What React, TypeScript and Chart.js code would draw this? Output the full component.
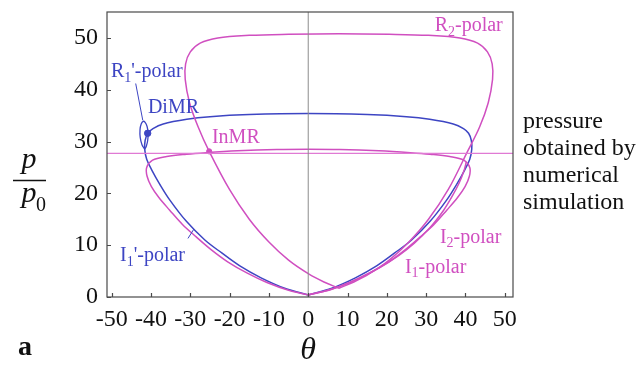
import { useEffect, useRef } from "react";
import { Chart, registerables } from "chart.js";

Chart.register(...registerables);

const MAGENTA = "#d04fc0";
const BLUE = "#3d45c3";
const SERIF = '"Liberation Serif", "Times New Roman", serif';

// Axis ranges and ticks (deflection angle θ in degrees, pressure ratio p/p0)
const THETA_MIN = -51.2;
const THETA_MAX = 52.1;
const P_MIN = 0;
const P_MAX = 55;
const THETA_TICKS = [-50, -40, -30, -20, -10, 0, 10, 20, 30, 40, 50];
const P_TICKS = [0, 10, 20, 30, 40, 50];

// Pressure from the numerical simulation
const NUMERICAL_PRESSURE = 27.7;

// I1-polar
const I1_THETA = [0, -5, -10.5, -15.5, -20.5, -24.8, -28.5, -32, -35.3, -38, -39.9, -41.0, -41.1, -39.6, -36, -31, -26, -18, -8, 0, 8, 18, 26, 31, 36, 39.6, 41.1, 41.0, 39.9, 38, 35.3, 32, 28.5, 24.8, 20.5, 15.5, 10.5, 5, 0];
const I1_P = [0.4, 1.3, 2.8, 4.6, 6.8, 9.2, 11.6, 14, 16.8, 19.2, 21.3, 23.3, 25.0, 26.4, 27.1, 27.55, 27.85, 28.2, 28.45, 28.5, 28.45, 28.2, 27.85, 27.55, 27.1, 26.4, 25.0, 23.3, 21.3, 19.2, 16.8, 14, 11.6, 9.2, 6.8, 4.6, 2.8, 1.3, 0.4];

// I2-polar (right branch)
const I2_THETA = [0, 6, 12, 18, 23, 27, 31, 34.5, 36.6, 38.4, 39.6, 40.2];
const I2_P = [0.4, 1.5, 3.3, 5.6, 8.0, 10.4, 13.4, 16.8, 19.4, 22.0, 24.3, 26.0];

// I1'-polar
const I1P_THETA = [0, -6, -12, -17.4, -22, -26.3, -31, -35.2, -37.8, -39.8, -41.1, -41.6, -41.5, -40.8, -39.5, -36.9, -30.9, -25, -15, 0, 15, 25, 30.9, 36.9, 39.5, 40.8, 41.5, 41.6, 41.1, 39.8, 37.8, 35.2, 31, 26.3, 22, 17.4, 12, 6, 0];
const I1P_P = [0.4, 1.7, 3.7, 6.0, 8.5, 11.0, 14.6, 18.7, 21.8, 24.5, 26.6, 28.5, 30.2, 31.6, 32.5, 33.4, 34.3, 34.8, 35.2, 35.4, 35.2, 34.8, 34.3, 33.4, 32.5, 31.6, 30.2, 28.5, 26.6, 24.5, 21.8, 18.7, 14.6, 11.0, 8.5, 6.0, 3.7, 1.7, 0.4];

// R1'-polar (small loop)
const R1P_THETA = [-41.6, -42.3, -42.75, -42.8, -42.5, -42.0, -41.5, -41.0, -40.75, -40.85, -41.2, -41.6];
const R1P_P = [28.5, 29.4, 30.8, 32.3, 33.4, 33.9, 33.7, 32.9, 31.6, 30.2, 29.1, 28.5];

// R2-polar
const R2_THETA = [7.8, 4, 0, -5, -10, -15, -20, -25.2, -28, -30.2, -31.3, -31.2, -30, -27.5, -23, -15, -5, 7.8, 20.6, 30.6, 38.6, 43.1, 45.6, 46.8, 46.9, 45.8, 43.6, 40.6, 35.6, 30.6, 25.6, 20.6, 15.6, 11.6, 7.8];
const R2_P = [1.7, 2.9, 4.5, 7.1, 10.6, 15.0, 20.7, 28.1, 32.8, 37.5, 42, 45, 47.3, 49, 50, 50.5, 50.7, 50.8, 50.7, 50.5, 50, 49, 47.3, 45, 42, 37.5, 32.8, 28.2, 20.7, 15, 10.6, 7.1, 4.5, 2.9, 1.7];

// Reflection configurations
const DIMR = { theta: -40.85, p: 31.6 };
const INMR = { theta: -25.2, p: 28.1 };

type Part = { t: string; sub?: boolean };
type Note = { parts: Part[]; theta: number; p: number; align: "left" | "right"; color: string };

const NOTES: Note[] = [
  { parts: [{ t: "R" }, { t: "2", sub: true }, { t: "-polar" }], theta: 49.5, p: 52.3, align: "right", color: MAGENTA },
  { parts: [{ t: "R" }, { t: "1", sub: true }, { t: "'-polar" }], theta: -50.2, p: 43.4, align: "left", color: BLUE },
  { parts: [{ t: "DiMR" }], theta: -40.8, p: 36.6, align: "left", color: BLUE },
  { parts: [{ t: "InMR" }], theta: -24.5, p: 30.8, align: "left", color: MAGENTA },
  { parts: [{ t: "I" }, { t: "1", sub: true }, { t: "'-polar" }], theta: -47.9, p: 7.9, align: "left", color: BLUE },
  { parts: [{ t: "I" }, { t: "2", sub: true }, { t: "-polar" }], theta: 33.5, p: 11.5, align: "left", color: MAGENTA },
  { parts: [{ t: "I" }, { t: "1", sub: true }, { t: "-polar" }], theta: 24.6, p: 5.7, align: "left", color: MAGENTA },
];

const LEADERS = [
  { from: [-43.9, 41.2], to: [-42.1, 34.1], color: BLUE },
  { from: [-30.6, 11.3], to: [-29.1, 13.1], color: BLUE },
];

const SIDE_TEXT = ["pressure", "obtained by", "numerical", "simulation"];

const pts = (xs: number[], ys: number[]) => xs.map((x, i) => ({ x, y: ys[i] }));

function drawParts(ctx: CanvasRenderingContext2D, parts: Part[], x: number, y: number, size: number, align: "left" | "right") {
  const big = `${size}px ${SERIF}`;
  const small = `${Math.round(size * 0.68)}px ${SERIF}`;
  const widths = parts.map((pt) => {
    ctx.font = pt.sub ? small : big;
    return ctx.measureText(pt.t).width;
  });
  const total = widths.reduce((a, b) => a + b, 0);
  let cx = align === "left" ? x : x - total;
  ctx.textAlign = "left";
  ctx.textBaseline = "middle";
  parts.forEach((pt, i) => {
    ctx.font = pt.sub ? small : big;
    ctx.fillText(pt.t, cx, pt.sub ? y + size * 0.3 : y);
    cx += widths[i];
  });
}

const decorPlugin = {
  id: "decor",
  afterDraw(chart: any) {
    const { ctx, chartArea: a, scales } = chart;
    const sx = scales.x;
    const sy = scales.y;
    ctx.save();

    // frame and inward ticks
    ctx.strokeStyle = "#4a4a4a";
    ctx.lineWidth = 1.2;
    ctx.strokeRect(a.left, a.top, a.right - a.left, a.bottom - a.top);
    ctx.beginPath();
    THETA_TICKS.forEach((v) => {
      const px = Math.round(sx.getPixelForValue(v)) + 0.5;
      ctx.moveTo(px, a.bottom);
      ctx.lineTo(px, a.bottom - 4);
    });
    P_TICKS.forEach((v) => {
      const py = Math.round(sy.getPixelForValue(v)) + 0.5;
      ctx.moveTo(a.left, py);
      ctx.lineTo(a.left + 4, py);
    });
    ctx.stroke();

    // leader lines
    ctx.lineWidth = 1;
    LEADERS.forEach((l) => {
      ctx.strokeStyle = l.color;
      ctx.beginPath();
      ctx.moveTo(sx.getPixelForValue(l.from[0]), sy.getPixelForValue(l.from[1]));
      ctx.lineTo(sx.getPixelForValue(l.to[0]), sy.getPixelForValue(l.to[1]));
      ctx.stroke();
    });

    // curve labels
    NOTES.forEach((n) => {
      ctx.fillStyle = n.color;
      drawParts(ctx, n.parts, sx.getPixelForValue(n.theta), sy.getPixelForValue(n.p), 20, n.align);
    });

    // note on the right
    ctx.fillStyle = "#111";
    ctx.font = `24px ${SERIF}`;
    ctx.textAlign = "left";
    ctx.textBaseline = "middle";
    SIDE_TEXT.forEach((s, i) => ctx.fillText(s, a.right + 10, 122 + i * 27));

    // axis titles
    const tx = 29;
    ctx.font = `italic 30px ${SERIF}`;
    ctx.textAlign = "center";
    ctx.textBaseline = "alphabetic";
    ctx.fillText("p", tx, 168);
    ctx.fillText("p", tx, 202);
    ctx.font = `20px ${SERIF}`;
    ctx.fillText("0", tx + 12, 211);
    ctx.lineWidth = 1.5;
    ctx.strokeStyle = "#111";
    ctx.beginPath();
    ctx.moveTo(13, 180.5);
    ctx.lineTo(46, 180.5);
    ctx.stroke();

    ctx.font = `italic 32px ${SERIF}`;
    ctx.textBaseline = "middle";
    ctx.fillText("θ", sx.getPixelForValue(0), 351);

    ctx.font = `bold 28px ${SERIF}`;
    ctx.fillText("a", 25, 348);
    ctx.restore();
  },
};

export default function App() {
  const ref = useRef<HTMLCanvasElement | null>(null);

  useEffect(() => {
    if (!ref.current) return;
    const curve = (label: string, data: { x: number; y: number }[], color: string, width = 1.5) => ({
      label,
      data,
      showLine: true,
      borderColor: color,
      backgroundColor: color,
      borderWidth: width,
      pointRadius: 0,
      tension: 0.35,
      fill: false,
    });
    const chart = new Chart(ref.current, {
      type: "scatter",
      data: {
        datasets: [
          { ...curve("θ = 0", [{ x: 0, y: P_MIN }, { x: 0, y: P_MAX }], "#8c8c8c", 1), tension: 0 },
          { ...curve("numerical", [{ x: THETA_MIN, y: NUMERICAL_PRESSURE }, { x: THETA_MAX, y: NUMERICAL_PRESSURE }], "#e07ad4", 1.2), tension: 0 },
          curve("R2-polar", pts(R2_THETA, R2_P), MAGENTA),
          curve("I1-polar", pts(I1_THETA, I1_P), MAGENTA),
          curve("I2-polar", pts(I2_THETA, I2_P), MAGENTA),
          curve("I1'-polar", pts(I1P_THETA, I1P_P), BLUE),
          curve("R1'-polar", pts(R1P_THETA, R1P_P), BLUE, 1.3),
          { label: "DiMR", data: [{ x: DIMR.theta, y: DIMR.p }], pointRadius: 3.2, backgroundColor: BLUE, borderColor: BLUE, showLine: false },
          { label: "InMR", data: [{ x: INMR.theta, y: INMR.p }], pointRadius: 2.6, backgroundColor: MAGENTA, borderColor: MAGENTA, showLine: false },
        ],
      },
      options: {
        responsive: false,
        animation: false,
        layout: { padding: { left: 0, top: 12, right: 131, bottom: 0 } },
        plugins: { legend: { display: false }, tooltip: { enabled: false } },
        scales: {
          x: {
            type: "linear",
            min: THETA_MIN,
            max: THETA_MAX,
            grid: { display: false, drawTicks: false },
            border: { display: false },
            afterBuildTicks: (s: any) => {
              s.ticks = THETA_TICKS.map((value) => ({ value }));
            },
            afterFit: (s: any) => {
              s.height = 72;
              s.paddingLeft = 0;
              s.paddingRight = 0;
            },
            ticks: {
              padding: 8,
              maxRotation: 0,
              autoSkip: false,
              color: "#111",
              font: { family: SERIF, size: 24 },
              callback: (v: any) => String(v),
            },
          },
          y: {
            type: "linear",
            min: P_MIN,
            max: P_MAX,
            grid: { display: false, drawTicks: false },
            border: { display: false },
            afterBuildTicks: (s: any) => {
              s.ticks = P_TICKS.map((value) => ({ value }));
            },
            afterFit: (s: any) => {
              s.width = 107;
              s.paddingTop = 0;
              s.paddingBottom = 0;
            },
            ticks: {
              padding: 9,
              autoSkip: false,
              color: "#111",
              font: { family: SERIF, size: 24 },
              callback: (v: any) => String(v),
            },
          },
        },
      },
      plugins: [decorPlugin],
    });
    return () => chart.destroy();
  }, []);

  return (
    <div style={{ position: "absolute", left: 0, top: 0, width: 644, height: 369, background: "#fff" }}>
      <canvas ref={ref} width={644} height={369} style={{ display: "block" }} />
    </div>
  );
}
